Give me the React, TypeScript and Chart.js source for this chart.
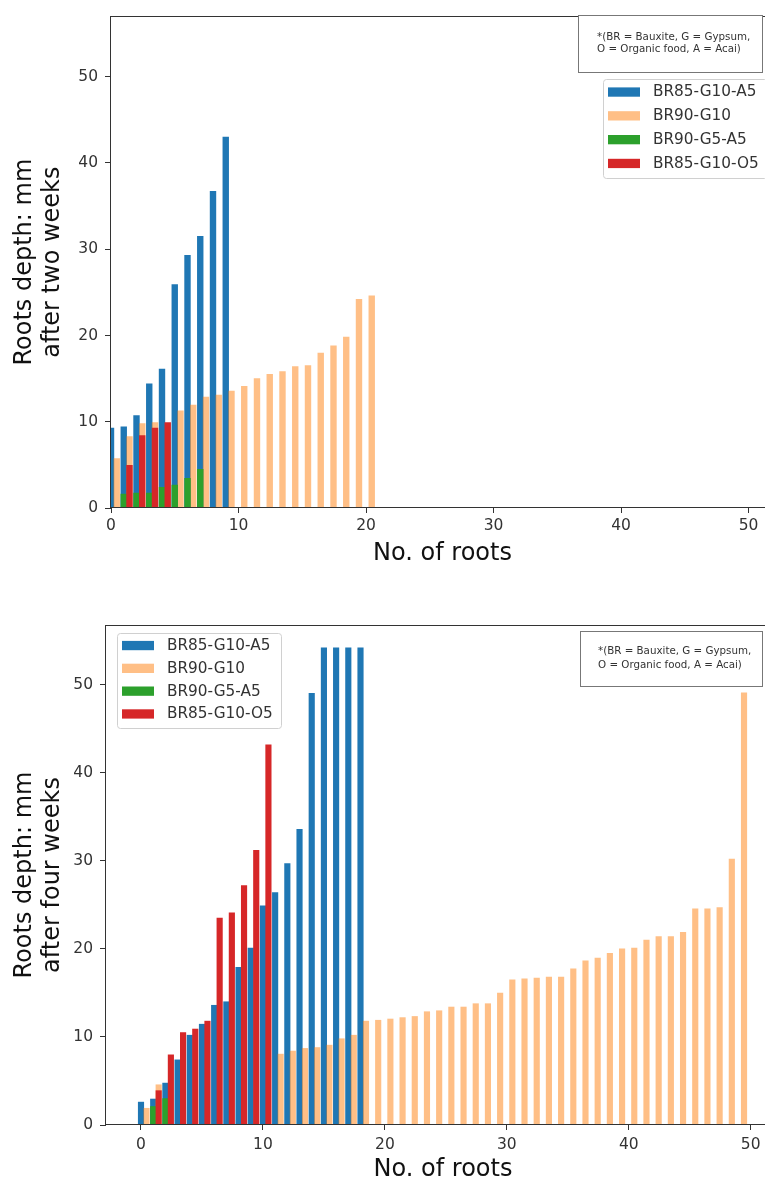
import React, { useEffect, useRef } from 'react';
import { Chart, registerables } from 'chart.js';

Chart.register(...registerables);

// ---------- data ----------
const seriesNames = ['BR85-G10-A5', 'BR90-G10', 'BR90-G5-A5', 'BR85-G10-O5'];
const xTickValues = [0, 10, 20, 30, 40, 50];
const yTickValues = [0, 10, 20, 30, 40, 50];
const xTitle = 'No. of roots';
const yTitleTwoWeeks = ['Roots depth: mm', 'after two weeks'];
const yTitleFourWeeks = ['Roots depth: mm', 'after four weeks'];
const noteLines = ['*(BR = Bauxite, G = Gypsum,', 'O = Organic food, A = Acai)'];

// after two weeks (index = root number)
const twoWeeksA5 = [9.27, 9.4, 10.7, 14.4, 16.1, 25.9, 29.3, 31.5, 36.7, 43.0];
const twoWeeksG10 = [5.72, 8.27, 9.8, 9.9, null, 11.25, 11.93, 12.85, 13.08, 13.54, 14.1, 15.0, 15.5, 15.8, 16.4, 16.5, 17.96, 18.8, 19.8, 24.2, 24.6];
const twoWeeksG5A5 = [null, 1.6, 1.72, 1.72, 2.4, 2.67, 3.44, 4.47];
const twoWeeksO5 = [null, 4.95, 8.4, 9.27, 9.9];

// after four weeks
const fourWeeksA5 = [2.6, 2.95, 4.76, 7.4, 10.2, 11.45, 13.6, 14.0, 17.9, 20.1, 24.9, 26.4, 29.7, 33.6, 49.05, 54.2, 54.2, 54.2, 54.2];
const fourWeeksG10 = [1.9, 4.57, null, null, null, null, null, null, null, null, null,
  8.05, 8.4, 8.7, 8.8, 9.07, 9.8, 10.2, 11.8, 11.9, 12.04, 12.2, 12.33, 12.87, 12.98, 13.4, 13.4, 13.78, 13.78, 15.0,
  16.5, 16.6, 16.7, 16.8, 16.8, 17.75, 18.65, 18.95, 19.5, 20.0, 20.1, 21.0, 21.4, 21.4, 21.9, 24.55, 24.55, 24.7, 30.2, 49.1];
const fourWeeksG5A5 = [null, 2.1, 3.0];
const fourWeeksO5 = [null, 3.9, 7.97, 10.5, 10.9, 11.8, 23.5, 24.1, 27.2, 31.2, 43.2];

// ---------- styles ----------
const seriesColors = ['#1f77b4', 'rgba(255,127,14,0.5)', '#2ca02c', '#d62728'];
const seriesShift = [0, 0.45, 0, 0.45];
const FONT = "'DejaVu Sans', sans-serif";

type Cfg = {
  width: number; height: number;
  area: { left: number; top: number; right: number; bottom: number };
  xMin: number; xMax: number; yMax: number;
  xTickPad: number; xTitlePad: number;
  yTitle: string[];
  series: (number | null)[][];
  legend: { x: number; y: number; w: number; h: number; first: number; gap: number; size: number };
  note: { x: number; y: number; w: number; h: number; tx: number; ty: number; gap: number };
};

function makeDecor(cfg: Cfg) {
  return {
    id: 'mplDecor',
    afterDraw(chart: any) {
      const { ctx, chartArea: a } = chart;
      ctx.save();
      // spines
      ctx.strokeStyle = '#333';
      ctx.lineWidth = 1;
      ctx.strokeRect(Math.round(a.left) - 0.5, Math.round(a.top) + 0.5, Math.round(a.right - a.left), Math.round(a.bottom - a.top) - 1);

      // note box
      const n = cfg.note;
      ctx.fillStyle = '#fff';
      ctx.fillRect(n.x, n.y, n.w, n.h);
      ctx.strokeStyle = '#777';
      ctx.strokeRect(n.x + 0.5, n.y + 0.5, n.w, n.h);
      ctx.fillStyle = '#333';
      ctx.font = `10.3px ${FONT}`;
      ctx.textBaseline = 'middle';
      ctx.textAlign = 'left';
      noteLines.forEach((t, i) => ctx.fillText(t, n.tx, n.ty + i * n.gap));

      // legend
      const L = cfg.legend;
      ctx.beginPath();
      if (ctx.roundRect) ctx.roundRect(L.x + 0.5, L.y + 0.5, L.w, L.h, 3);
      else ctx.rect(L.x + 0.5, L.y + 0.5, L.w, L.h);
      ctx.fillStyle = 'rgba(255,255,255,0.85)';
      ctx.fill();
      ctx.strokeStyle = '#d0d0d0';
      ctx.stroke();
      chart.data.datasets.forEach((ds: any, i: number) => {
        const cy = L.y + L.first + i * L.gap;
        ctx.fillStyle = ds.backgroundColor;
        ctx.fillRect(L.x + 5, cy - 4.6, 32, 9.3);
        ctx.fillStyle = '#333';
        ctx.font = `${L.size}px ${FONT}`;
        ctx.textBaseline = 'middle';
        ctx.fillText(ds.label, L.x + 50, cy + 0.5);
      });
      ctx.restore();
    },
  };
}

function RootChart({ cfg, top }: { cfg: Cfg; top: number }) {
  const ref = useRef<HTMLCanvasElement>(null);
  useEffect(() => {
    if (!ref.current) return;
    const datasets = cfg.series.map((vals, s) => ({
      label: seriesNames[s],
      data: vals
        .map((v, i) => ({ x: i + seriesShift[s], y: v }))
        .filter((p) => p.y !== null),
      backgroundColor: seriesColors[s],
      borderWidth: 0,
      grouped: false,
      categoryPercentage: 1,
      barPercentage: 1,
      order: 4 - s,
    }));
    const a = cfg.area;
    const chart = new Chart(ref.current, {
      type: 'bar',
      data: { datasets: datasets as any },
      plugins: [makeDecor(cfg) as any],
      options: {
        responsive: false,
        animation: false,
        events: [],
        layout: { padding: { left: 0, top: a.top, right: cfg.width - a.right, bottom: 0 } },
        plugins: { legend: { display: false }, tooltip: { enabled: false } },
        scales: {
          x: {
            type: 'linear',
            min: cfg.xMin,
            max: cfg.xMax,
            offset: false,
            afterBuildTicks: (s: any) => { s.ticks = xTickValues.map((v) => ({ value: v })); },
            ticks: { font: { family: FONT, size: 15.5 }, color: '#333', padding: cfg.xTickPad, maxRotation: 0, autoSkip: false, callback: (v: any) => String(v) },
            grid: { drawOnChartArea: false, offset: false, tickLength: 5, color: '#333', lineWidth: 1 },
            border: { display: false },
            title: { display: true, text: xTitle, color: '#111', font: { family: FONT, size: 24, lineHeight: 1.2 }, padding: { top: 0, bottom: cfg.xTitlePad } },
            afterFit: (s: any) => { s.height = cfg.height - a.bottom; },
          } as any,
          y: {
            type: 'linear',
            min: 0,
            max: cfg.yMax,
            afterBuildTicks: (s: any) => { s.ticks = yTickValues.map((v) => ({ value: v })); },
            ticks: { font: { family: FONT, size: 15.5 }, color: '#333', padding: 7, callback: (v: any) => String(v) },
            grid: { drawOnChartArea: false, tickLength: 6, color: '#333', lineWidth: 1 },
            border: { display: false },
            title: { display: true, text: cfg.yTitle, color: '#111', font: { family: FONT, size: 24, lineHeight: 28 / 24 }, padding: { top: 11, bottom: 0 } },
            afterFit: (s: any) => { s.width = a.left; },
          } as any,
        },
      },
    });
    return () => chart.destroy();
  }, [cfg]);
  return (
    <canvas
      ref={ref}
      width={cfg.width}
      height={cfg.height}
      style={{ position: 'absolute', left: 0, top, width: cfg.width, height: cfg.height, display: 'block' }}
    />
  );
}

const topCfg: Cfg = {
  width: 800, height: 580,
  area: { left: 111, top: 10, right: 774, bottom: 508 },
  xMin: 0, xMax: 52.0, yMax: 57,
  xTickPad: 4, xTitlePad: 11.6,
  yTitle: yTitleTwoWeeks,
  series: [twoWeeksA5, twoWeeksG10, twoWeeksG5A5, twoWeeksO5],
  legend: { x: 603, y: 79, w: 164, h: 99, first: 13, gap: 23.8, size: 15.3 },
  note: { x: 578, y: 15, w: 184, h: 57, tx: 597, ty: 37, gap: 12.5 },
};

const bottomCfg: Cfg = {
  width: 800, height: 605,
  area: { left: 106, top: 45, right: 780, bottom: 545 },
  xMin: -2.87, xMax: 52.4, yMax: 56.8,
  xTickPad: 6, xTitlePad: 0.6,
  yTitle: yTitleFourWeeks,
  series: [fourWeeksA5, fourWeeksG10, fourWeeksG5A5, fourWeeksO5],
  legend: { x: 117, y: 53, w: 164, h: 95, first: 12.5, gap: 22.8, size: 15.3 },
  note: { x: 580, y: 51, w: 182, h: 55, tx: 598, ty: 71.7, gap: 13.3 },
};

export default function App() {
  useEffect(() => {
    document.body.style.margin = '0';
  }, []);
  return (
    <div style={{ position: 'relative', width: 765, height: 1185, overflow: 'hidden', background: '#fff' }}>
      <RootChart cfg={topCfg} top={0} />
      <RootChart cfg={bottomCfg} top={580} />
    </div>
  );
}
